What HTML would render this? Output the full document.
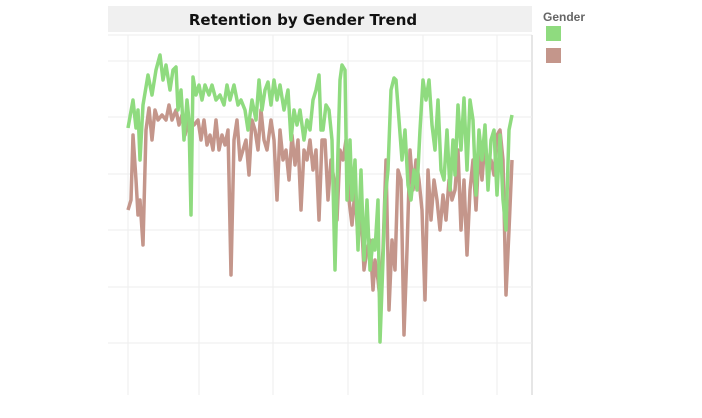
<!DOCTYPE html>
<html><head><meta charset="utf-8"><style>
body{margin:0;background:#fff;width:702px;height:413px;overflow:hidden;font-family:"Liberation Sans",sans-serif}
</style></head><body>
<svg width="702" height="413" xmlns="http://www.w3.org/2000/svg">
<rect x="108" y="6" width="424" height="26" fill="#f0f0f0"/>
<text x="303" y="25" text-anchor="middle" font-family="DejaVu Sans, sans-serif" font-weight="bold" font-size="15" fill="#111">Retention by Gender Trend</text>
<line x1="108" y1="35" x2="532" y2="35" stroke="#eee"/>
<line x1="532" y1="35" x2="532" y2="395" stroke="#ddd" stroke-width="1.5"/>
<g stroke="#eeeeee" stroke-width="1">
<line x1="128" y1="35" x2="128" y2="395"/><line x1="199" y1="35" x2="199" y2="395"/><line x1="273" y1="35" x2="273" y2="395"/><line x1="348" y1="35" x2="348" y2="395"/><line x1="423" y1="35" x2="423" y2="395"/><line x1="497" y1="35" x2="497" y2="395"/>
<line x1="108" y1="61" x2="532" y2="61"/><line x1="108" y1="117" x2="532" y2="117"/><line x1="108" y1="174" x2="532" y2="174"/><line x1="108" y1="230" x2="532" y2="230"/><line x1="108" y1="287" x2="532" y2="287"/><line x1="108" y1="343" x2="532" y2="343"/>
</g>
<polyline fill="none" stroke="#c4968b" stroke-width="3.5" stroke-linejoin="round" points="128,210 131,200 133,135 136,180 138,215 140,200 143,245 146,130 149,108 152,140 155,110 158,120 162,115 166,120 169,105 172,120 176,110 179,125 182,115 185,135 188,120 191,125 194,125 198,120 201,140 204,120 207,145 210,135 213,150 216,120 219,150 222,135 225,145 228,130 231,275 234,140 237,120 240,160 243,150 246,140 249,175 252,120 255,130 258,150 261,110 264,140 267,150 271,120 274,140 277,200 280,130 283,160 286,150 289,180 292,135 295,165 298,140 301,210 304,150 307,160 310,140 313,170 316,150 319,220 322,140 325,140 328,200 331,160 334,180 337,220 340,150 343,160 346,140 349,200 352,225 355,190 358,240 361,210 364,270 367,250 370,240 373,290 375,260 378,280 380,300 383,250 386,160 389,310 392,240 395,270 398,170 401,180 404,335 407,250 410,150 413,190 416,160 419,180 422,210 425,300 428,170 431,220 434,180 437,200 440,230 443,195 446,220 449,180 452,200 455,190 458,150 461,230 464,180 467,255 470,190 473,160 476,210 479,150 482,180 485,140 488,170 491,160 494,175 497,135 500,130 503,160 506,295 509,230 512,160"/>
<polyline fill="none" stroke="#8fdb7f" stroke-width="3.5" stroke-linejoin="round" points="128,128 133,100 136,128 138,110 140,160 143,105 148,75 152,95 156,70 160,55 163,80 166,65 170,90 173,70 176,67 178,110 181,90 184,140 187,100 189,120 191,215 193,77 196,95 199,85 202,100 205,85 209,95 212,85 216,100 220,95 224,105 227,85 230,100 234,85 238,105 241,100 245,110 248,130 252,100 256,120 259,80 262,110 265,90 268,82 271,105 274,80 277,100 280,85 284,110 288,90 291,140 294,110 297,125 300,110 304,140 307,120 310,130 313,100 316,90 319,75 321,130 323,130 326,105 329,110 332,140 335,270 338,150 340,80 342,65 345,70 347,200 350,140 352,200 355,160 358,250 361,170 364,260 367,200 370,270 373,240 375,250 378,200 380,342 383,260 385,200 388,170 391,90 394,78 396,80 399,120 402,160 405,130 408,185 411,200 414,170 417,190 420,130 423,80 426,100 429,80 432,125 435,150 438,100 441,170 444,180 447,130 450,190 453,140 455,175 458,105 461,150 464,98 467,170 470,100 473,120 476,195 479,130 482,160 485,125 488,190 491,140 494,130 497,195 500,135 503,200 506,230 509,130 512,115"/>
<text x="543" y="21" font-size="12" font-weight="bold" fill="#666">Gender</text>
<rect x="546" y="26" width="15" height="15" fill="#8fdb7f"/>
<rect x="546" y="48" width="15" height="15" fill="#c4968b"/>
</svg>
</body></html>
